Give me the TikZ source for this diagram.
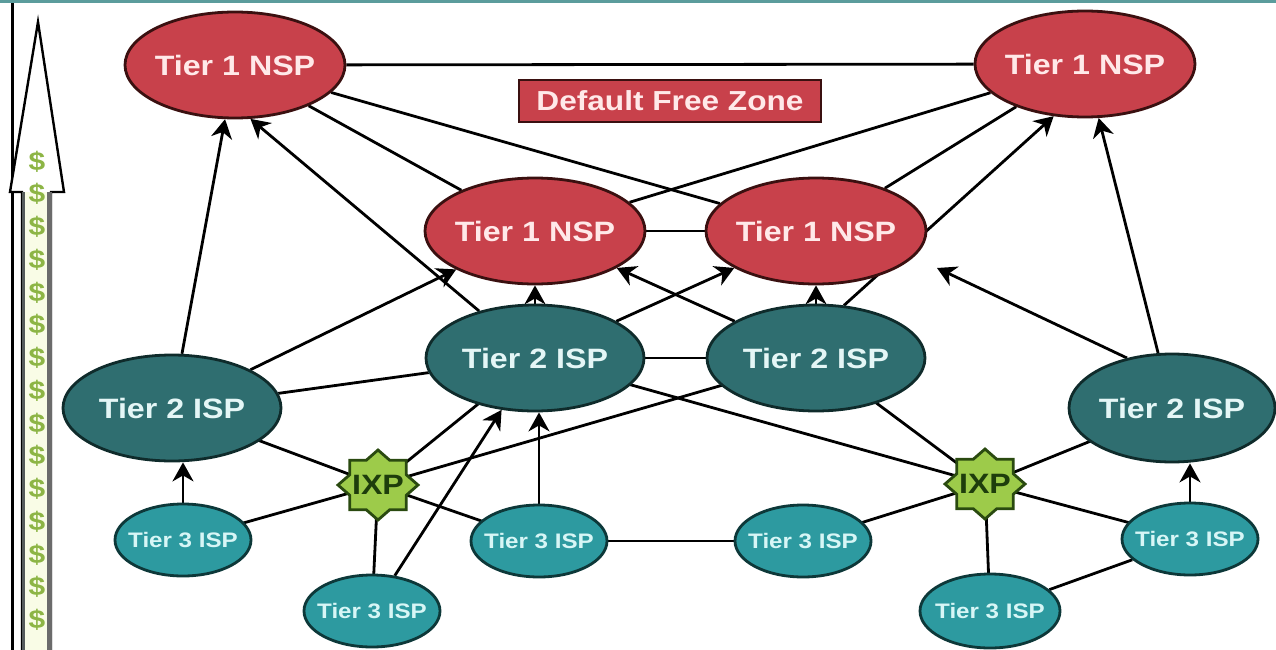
\documentclass[tikz,border=0pt]{standalone}
\usepackage{fontspec}
\newfontfamily\lsb{Liberation Sans}[FakeStretch=1.15]
\usetikzlibrary{shapes.geometric,arrows.meta}
\pgfdeclarelayer{bg}
\pgfsetlayers{bg,main}
\newcommand{\zb}[1]{\makebox[0pt]{#1}}
\definecolor{t1fill}{HTML}{C8414B}
\definecolor{t1border}{HTML}{3A1010}
\definecolor{t1text}{HTML}{FFE9E9}
\definecolor{t2fill}{HTML}{2F6E70}
\definecolor{t2border}{HTML}{0F2B2B}
\definecolor{t2text}{HTML}{E4F6F6}
\definecolor{t3fill}{HTML}{2D9AA0}
\definecolor{t3border}{HTML}{0D3839}
\definecolor{t3text}{HTML}{D7F6F6}
\definecolor{ixpfill}{HTML}{9DCB4A}
\definecolor{ixpborder}{HTML}{2A4A10}
\definecolor{ixptext}{HTML}{1E3D0C}
\definecolor{dollarc}{HTML}{8DB545}
\definecolor{shaftfill}{HTML}{F9FCE6}
\definecolor{edgeL}{HTML}{555B5B}
\definecolor{edgeR}{HTML}{6B6B6B}
\definecolor{topline}{HTML}{5B9C9C}
\tikzset{
  tone/.style={ellipse, draw=t1border, fill=t1fill, line width=2.8pt, minimum width=220pt, minimum height=106pt, inner sep=0pt, text=t1text, font=\lsb\bfseries\fontsize{28}{30}\selectfont},
  ttwo/.style={ellipse, draw=t2border, fill=t2fill, line width=2.8pt, minimum width=218pt, minimum height=106pt, inner sep=0pt, text=t2text, font=\lsb\bfseries\fontsize{28}{30}\selectfont},
  tthree/.style={ellipse, draw=t3border, fill=t3fill, line width=2.8pt, minimum width=136pt, minimum height=72pt, inner sep=0pt, text=t3text, font=\lsb\bfseries\fontsize{21}{22}\selectfont},
  ixp/.style={ellipse, minimum width=80pt, minimum height=70pt, inner sep=0pt, text=ixptext, font=\lsb\bfseries\fontsize{28}{30}\selectfont},
  ixpshape/.style={draw=ixpborder, fill=ixpfill, line width=2.8pt, line join=miter},
  dfz/.style={rectangle, draw=t1border, fill=t1fill, line width=2.8pt, minimum width=302pt, minimum height=42pt, inner sep=0pt, text=t1text, font=\lsb\bfseries\fontsize{27.5}{30}\selectfont},
  dollar/.style={inner sep=0pt, text=dollarc, font=\lsb\bfseries\fontsize{26}{28}\selectfont},
  link/.style={line width=2.8pt, black},
  arr/.style={link, -{Stealth[length=19pt,width=21pt,inset=6pt]}}
}
\begin{document}
\begin{tikzpicture}[x=1pt,y=-1pt]
\useasboundingbox (0,0) rectangle (1276,650);
% IXP star outlines
\foreach \cx/\cy in {378/485, 985/484} {
  \draw[ixpshape] (\cx+40,\cy)
    \foreach \a in {22.5,67.5,...,337.5} { -- ({\cx+30.6*cos(\a)},{\cy+26.8*sin(\a)}) -- ({\cx+40*cos(\a+22.5)},{\cy+35*sin(\a+22.5)}) } -- cycle;
}
% nodes
\node[tone] (T1a) at (235,65) {\zb{Tier 1 NSP}};
\node[tone] (T1b) at (1085,64) {\zb{Tier 1 NSP}};
\node[tone] (T1c) at (535,231) {\zb{Tier 1 NSP}};
\node[tone] (T1d) at (816,231) {\zb{Tier 1 NSP}};
\node[dfz] (dfz) at (670,101) {Default Free Zone};
\node[ttwo] (T2a) at (172,408) {\zb{Tier 2 ISP}};
\node[ttwo, minimum width=206pt, minimum height=108pt] (T2b) at (1172,408) {\zb{Tier 2 ISP}};
\node[ttwo] (T2c) at (535,358) {\zb{Tier 2 ISP}};
\node[ttwo] (T2d) at (816,358) {\zb{Tier 2 ISP}};
\node[tthree] (T3a) at (183,540) {\zb{Tier 3 ISP}};
\node[tthree] (T3b) at (539,541) {\zb{Tier 3 ISP}};
\node[tthree] (T3c) at (803,541) {\zb{Tier 3 ISP}};
\node[tthree] (T3d) at (1190,539) {\zb{Tier 3 ISP}};
\node[tthree] (T3e) at (372,611) {\zb{Tier 3 ISP}};
\node[tthree, minimum width=140pt, minimum height=74pt] (T3f) at (990,611) {\zb{Tier 3 ISP}};
\node[ixp] (IXP1) at (378,485) {\zb{IXP}};
\node[ixp] (IXP2) at (985,484) {\zb{IXP}};
\coordinate (tipR) at (937,268);
% money arrow
\draw[black, line width=3pt] (12,0) -- (12,650);
\draw[black, line width=2.4pt, fill=white] (22,652) -- (22,192) -- (10,192) -- (38,22) -- (64,192) -- (51,192) -- (51,652);
\fill[shaftfill] (24,192) rectangle (49,650);
\draw[edgeL, line width=3.2pt] (23.5,192) -- (23.5,650);
\draw[edgeR, line width=4.5pt] (49.5,192) -- (49.5,650);
\foreach \k in {0,...,14} \node[dollar] (d\k) at (37,161.5+32.75*\k) {\$};
\draw[topline, line width=3pt] (0,1.5) -- (1276,1.5);
% connectors
\begin{pgfonlayer}{bg}
\fill[white] (0,0) rectangle (1276,650);
\draw[link] (T1a) -- (T1b);
\draw[link] (T1a) -- (T1c);
\draw[link] (T1a) -- (T1d);
\draw[link] (T1b) -- (T1c);
\draw[link] (T1b) -- (T1d);
\draw[link] (T1c) -- (T1d);
\draw[link] (T2c) -- (T2d);
\draw[arr] (T2a) -- (T1a);
\draw[arr] (T2c) -- (T1a.-74);
\draw[arr] (T2a) -- (T1c);
\draw[arr] (T2c) -- (T1c);
\draw[arr] (T2c) -- (T1d);
\draw[arr] (T2d) -- (T1c);
\draw[arr] (T2d) -- (T1d);
\draw[arr] (T2d.62) -- (T1b.-121);
\draw[arr] (T2b) -- (T1b);
\draw[arr] (T2b.132) -- (tipR);
\draw[link] (T2a) -- (T2c);
\draw[link] (T2a.center) -- (IXP1.center);
\draw[link] (T3a.center) -- (IXP1.center);
\draw[link] (IXP1.center) -- (T2c.center);
\draw[link] (IXP1.center) -- (T2d.center);
\draw[link] (IXP1.center) -- (T3b.center);
\draw[link] (IXP1.center) -- (T3e.center);
\draw[arr] (T3e) -- (T2c);
\draw[arr] (T3b) -- (T3b |- T2c.south);
\draw[arr] (T3a) -- (T3a |- T2a.south);
\draw[arr] (T3d) -- (T3d |- T2b.south);
\draw[link] (T2c.center) -- (IXP2.center);
\draw[link] (T2d.center) -- (IXP2.center);
\draw[link] (IXP2.center) -- (T2b.center);
\draw[link] (IXP2.center) -- (T3c.center);
\draw[link] (IXP2.center) -- (T3d.center);
\draw[link] (IXP2.center) -- (T3f.center);
\draw[link] (T3f) -- (T3d);
\draw[link] (T3b) -- (T3c);
\end{pgfonlayer}
\end{tikzpicture}
\end{document}
